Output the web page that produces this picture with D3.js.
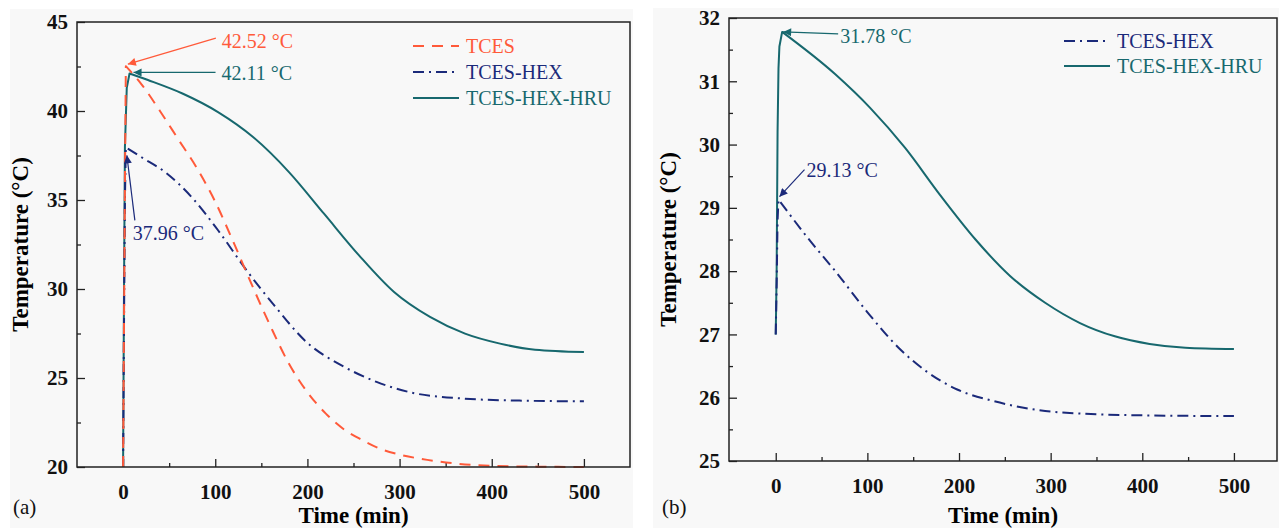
<!DOCTYPE html>
<html>
<head>
<meta charset="utf-8">
<script src="https://cdn.jsdelivr.net/npm/d3@7"></script>
<style>
body { margin: 0; background: #fff; }
svg text, .axis { font-family: "Liberation Serif", Tinos, "Times New Roman", "DejaVu Serif", serif !important; }
.axis .tick text { font-weight: bold; font-size: 21px; fill: #111; }
.axis path.domain { display: none; }
.axis line { stroke: #222; stroke-width: 1.3; }
</style>
</head>
<body>
<svg id="chart" width="1279" height="528"></svg>
<script>
// panel (a) series, time in min / temperature in degC
var timeA_tces = [0, 1, 2, 3, 20, 40, 60, 80, 100, 120, 140, 160, 180, 200, 220, 240, 260, 280, 300, 330, 360, 400, 450, 500];
var tempA_tces = [20, 28, 36, 42.52, 41.5, 40.0, 38.4, 36.8, 34.9, 32.6, 30.2, 27.9, 25.8, 24.2, 23.0, 22.1, 21.5, 21.0, 20.7, 20.4, 20.2, 20.06, 20.02, 20.0];
var timeA_hex = [0, 1, 2, 3, 20, 46, 76, 103, 134, 164, 199, 237, 275, 313, 371, 430, 500];
var tempA_hex = [20, 28, 35, 37.96, 37.4, 36.55, 35.07, 33.3, 31.05, 29.08, 27.02, 25.71, 24.78, 24.18, 23.84, 23.73, 23.69];
var timeA_hru = [0, 1, 2, 4, 7, 27, 65, 103, 141, 180, 218, 256, 294, 333, 371, 409, 447, 500];
var tempA_hru = [20, 30, 38, 41.3, 42.11, 41.74, 40.97, 39.94, 38.54, 36.57, 34.23, 31.89, 29.83, 28.43, 27.49, 26.93, 26.59, 26.46];

// panel (b) series
var timeB_hex = [0, 1, 2, 3, 38, 65, 99, 134, 164, 198, 237, 294, 332, 408, 500];
var tempB_hex = [27.0, 27.8, 28.8, 29.13, 28.47, 28.0, 27.37, 26.79, 26.42, 26.13, 25.95, 25.79, 25.75, 25.72, 25.71];
var timeB_hru = [0, 1, 2, 3, 4, 7, 65, 103, 141, 179, 218, 256, 294, 332, 370, 408, 447, 500];
var tempB_hru = [27.0, 28.0, 30.2, 31.2, 31.55, 31.78, 31.11, 30.58, 29.95, 29.21, 28.5, 27.92, 27.5, 27.18, 26.97, 26.85, 26.79, 26.77];

var xTicks = [0, 100, 200, 300, 400, 500];
var xMinor = [50, 150, 250, 350, 450];
var yTicksA = [20, 25, 30, 35, 40, 45];
var yMinorA = [22.5, 27.5, 32.5, 37.5, 42.5];
var yTicksB = [25, 26, 27, 28, 29, 30, 31, 32];
var yMinorB = [25.5, 26.5, 27.5, 28.5, 29.5, 30.5, 31.5];

var names = ["TCES", "TCES-HEX", "TCES-HEX-HRU"];
var colors = {"TCES": "#ff5a3a", "TCES-HEX": "#1b2a7a", "TCES-HEX-HRU": "#17686e"};
var dashes = {"TCES": "11,8", "TCES-HEX": "11,5,2,5", "TCES-HEX-HRU": null};
var serif = '"Liberation Serif", Tinos, "Times New Roman", "DejaVu Serif", serif';

var svg = d3.select("#chart");

var defs = svg.append("defs");
names.forEach(function(n, i) {
	defs.append("marker")
		.attr("id", "arrow" + i)
		.attr("viewBox", "0 0 10 10")
		.attr("refX", 10)
		.attr("refY", 5)
		.attr("markerWidth", 11)
		.attr("markerHeight", 8)
		.attr("markerUnits", "userSpaceOnUse")
		.attr("orient", "auto")
		.append("path")
		.attr("d", "M0,0 L10,5 L0,10 Z")
		.attr("fill", colors[n]);
});

function drawPanel(p) {
	var g = svg.append("g");
	g.append("rect")
		.attr("x", p.bg[0]).attr("y", p.bg[1])
		.attr("width", p.bg[2]).attr("height", p.bg[3])
		.attr("fill", "#f8f8f8");

	var x = d3.scaleLinear().domain(p.xDomain).range([p.left, p.right]);
	var y = d3.scaleLinear().domain(p.yDomain).range([p.bottom, p.top]);

	g.append("g").attr("class", "axis")
		.attr("transform", "translate(0," + p.bottom + ")")
		.call(d3.axisBottom(x).tickValues(xTicks).tickSize(-8).tickPadding(17).tickFormat(d3.format("d")));
	g.append("g").attr("class", "axis")
		.attr("transform", "translate(0," + p.bottom + ")")
		.call(d3.axisBottom(x).tickValues(xMinor).tickSize(-4).tickFormat(""));
	g.append("g").attr("class", "axis")
		.attr("transform", "translate(" + p.left + ",0)")
		.call(d3.axisLeft(y).tickValues(p.yTicks).tickSize(-8).tickPadding(9).tickFormat(d3.format("d")));
	g.append("g").attr("class", "axis")
		.attr("transform", "translate(" + p.left + ",0)")
		.call(d3.axisLeft(y).tickValues(p.yMinor).tickSize(-4).tickFormat(""));
	g.selectAll(".axis").attr("font-family", serif);

	var rise = d3.line()
		.x(function(d) { return x(d[0]); })
		.y(function(d) { return y(d[1]); });
	var decay = d3.line()
		.x(function(d) { return x(d[0]); })
		.y(function(d) { return y(d[1]); })
		.curve(d3.curveMonotoneX);

	// sharp heating ramp up to the peak, smooth cooling after it
	p.series.slice().reverse().forEach(function(s) {
		var pts = s.time.map(function(t, i) { return [t, s.temp[i]]; });
		var k = d3.maxIndex(s.temp);
		var d = rise(pts.slice(0, k + 1)) + decay(pts.slice(k)).replace(/^M/, "L");
		g.append("path")
			.attr("d", d)
			.attr("fill", "none")
			.attr("stroke", colors[s.name])
			.attr("stroke-width", 2)
			.attr("stroke-linejoin", "round")
			.attr("stroke-dasharray", dashes[s.name]);
	});

	// frame
	g.append("rect")
		.attr("x", p.left).attr("y", p.top)
		.attr("width", p.right - p.left).attr("height", p.bottom - p.top)
		.attr("fill", "none")
		.attr("stroke", "#222")
		.attr("stroke-width", 1.5);

	// legend
	p.series.forEach(function(s, i) {
		var ly = p.legend[1] + i * p.legend[2];
		g.append("line")
			.attr("x1", p.legend[0]).attr("x2", p.legend[0] + 46)
			.attr("y1", ly).attr("y2", ly)
			.attr("stroke", colors[s.name])
			.attr("stroke-width", 2)
			.attr("stroke-dasharray", dashes[s.name]);
		g.append("text")
			.attr("x", p.legend[0] + 53).attr("y", ly + 7)
			.attr("font-family", serif)
			.attr("font-size", 20)
			.attr("fill", colors[s.name])
			.text(s.name);
	});

	// peak annotations
	p.notes.forEach(function(a) {
		var tx = x(a.t) + a.off[0], ty = y(a.T) + a.off[1];
		var sx = tx + a.tail[0], sy = ty + a.tail[1];
		g.append("line")
			.attr("x1", sx).attr("y1", sy)
			.attr("x2", tx).attr("y2", ty)
			.attr("stroke", colors[a.name])
			.attr("stroke-width", 1.2)
			.attr("marker-end", "url(#arrow" + names.indexOf(a.name) + ")");
		g.append("text")
			.attr("x", sx + a.label[0]).attr("y", sy + a.label[1])
			.attr("font-family", serif)
			.attr("font-size", 20)
			.attr("fill", colors[a.name])
			.text(a.T.toFixed(2) + " \u00B0C");
	});

	g.append("text")
		.attr("x", (p.left + p.right) / 2).attr("y", 523)
		.attr("text-anchor", "middle")
		.attr("font-family", serif)
		.attr("font-size", 23).attr("font-weight", "bold")
		.text("Time (min)");
	g.append("text")
		.attr("transform", "translate(" + p.yTitleX + "," + (p.top + p.bottom) / 2 + ") rotate(-90)")
		.attr("text-anchor", "middle")
		.attr("font-family", serif)
		.attr("font-size", 23).attr("font-weight", "bold")
		.text("Temperature (\u00B0C)");
	g.append("text")
		.attr("x", p.tag[0]).attr("y", p.tag[1])
		.attr("font-family", serif)
		.attr("font-size", 21)
		.attr("fill", "#111")
		.text(p.tagText);
}

drawPanel({
	bg: [10, 9, 623, 519],
	left: 77, right: 630, top: 22, bottom: 467,
	xDomain: [-50, 550], yDomain: [20, 45],
	yTicks: yTicksA, yMinor: yMinorA,
	series: [
		{name: "TCES", time: timeA_tces, temp: tempA_tces},
		{name: "TCES-HEX", time: timeA_hex, temp: tempA_hex},
		{name: "TCES-HEX-HRU", time: timeA_hru, temp: tempA_hru}
	],
	legend: [413, 46, 26],
	notes: [
		{name: "TCES", t: 3, T: 42.52, off: [2, -2], tail: [88, -26], label: [6, 10]},
		{name: "TCES-HEX-HRU", t: 7, T: 42.11, off: [4, -1], tail: [82, 0], label: [6, 8]},
		{name: "TCES-HEX", t: 3, T: 37.96, off: [1, 8], tail: [8, 65], label: [-2, 20]}
	],
	yTitleX: 28,
	tag: [13, 514], tagText: "(a)"
});

drawPanel({
	bg: [653, 8, 626, 520],
	left: 729, right: 1277, top: 18, bottom: 461,
	xDomain: [-51, 547], yDomain: [25, 32],
	yTicks: yTicksB, yMinor: yMinorB,
	series: [
		{name: "TCES-HEX", time: timeB_hex, temp: tempB_hex},
		{name: "TCES-HEX-HRU", time: timeB_hru, temp: tempB_hru}
	],
	legend: [1064, 41, 25],
	notes: [
		{name: "TCES-HEX-HRU", t: 7, T: 31.78, off: [1, 0], tail: [55, 2], label: [2, 9]},
		{name: "TCES-HEX", t: 3, T: 29.13, off: [1, -3], tail: [25, -27], label: [2, 7]}
	],
	yTitleX: 676,
	tag: [662, 514], tagText: "(b)"
});
</script>
</body>
</html>
